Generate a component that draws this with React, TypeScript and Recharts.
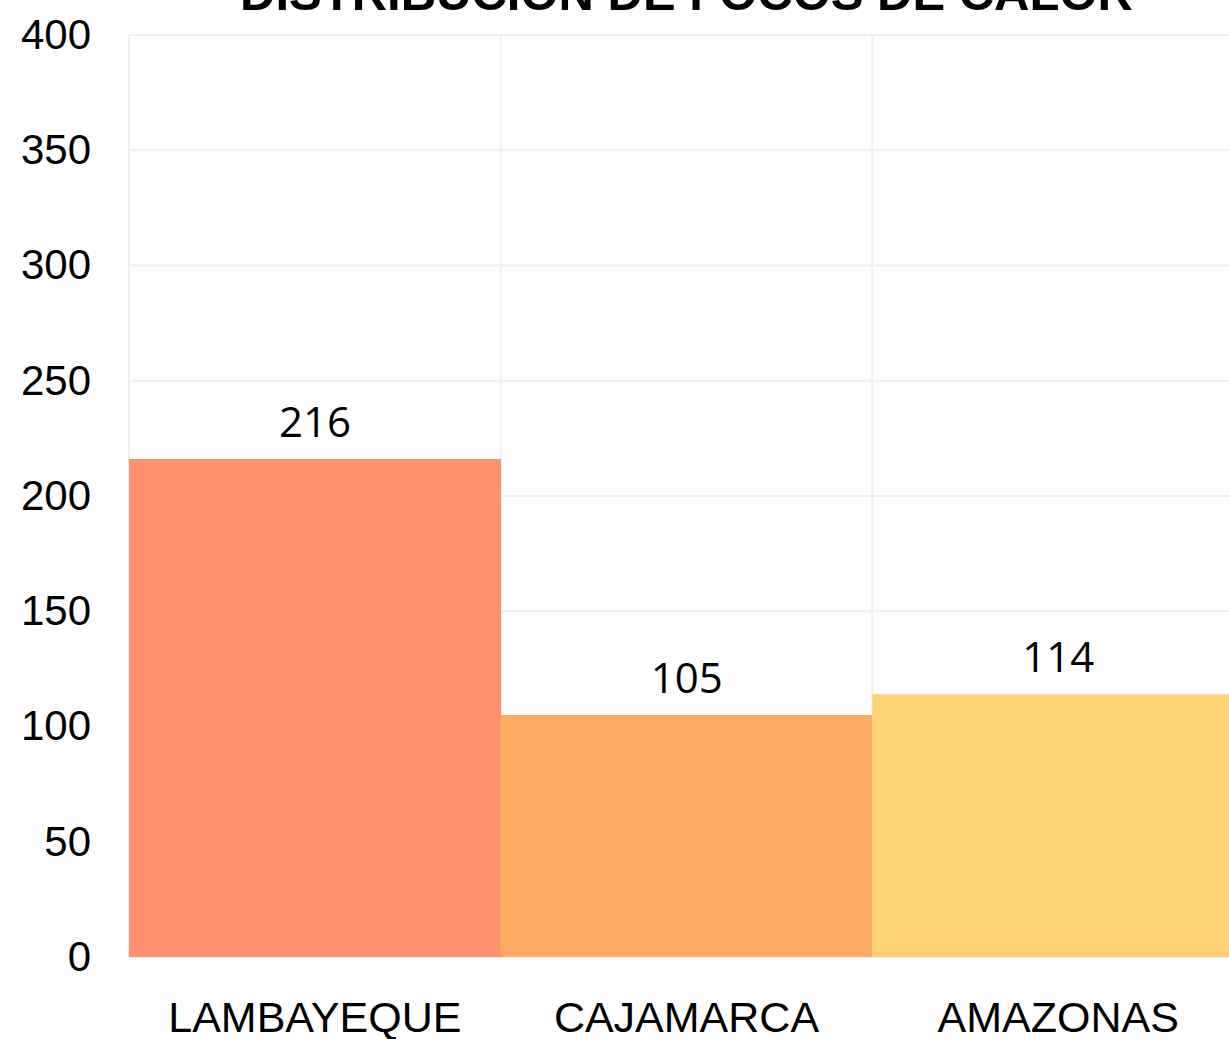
import { BarChart, Bar, XAxis, YAxis, CartesianGrid, Cell, LabelList } from "recharts";

const categories = ["LAMBAYEQUE", "CAJAMARCA", "AMAZONAS"];
const focos = [216, 105, 114];
const yTicks = [0, 50, 100, 150, 200, 250, 300, 350, 400];
const barColors = ["#FF916E", "#FFAB62", "#FFD271"];

const data = categories.map((name, i) => ({ name, value: focos[i] }));

const axisFont = "'Liberation Sans', Arial, sans-serif";

export default function App() {
  return (
    <div
      style={{
        position: "absolute",
        left: 0,
        top: 0,
        width: 1229,
        height: 1039,
        overflow: "hidden",
        background: "#fff",
      }}
    >
      <BarChart
        width={1244}
        height={1039}
        data={data}
        margin={{ top: 35, right: 0, bottom: 0, left: 0 }}
        barCategoryGap={0}
      >
        <CartesianGrid
          stroke="#f0f0f0"
          strokeWidth={2}
          verticalCoordinatesGenerator={({ offset }: any) =>
            [0, 1, 2, 3].map((i) => offset.left + (i * offset.width) / categories.length)
          }
        />
        <XAxis
          dataKey="name"
          height={82}
          axisLine={false}
          tickLine={false}
          tickSize={0}
          tickMargin={44}
          tick={{ fill: "#000", fontSize: 43, fontFamily: axisFont }}
        />
        <YAxis
          width={129}
          domain={[0, 400]}
          ticks={yTicks}
          axisLine={false}
          tickLine={false}
          tickSize={0}
          tickMargin={38}
          tick={{ fill: "#000", fontSize: 42, fontFamily: axisFont, dy: -1 }}
        />
        <Bar dataKey="value" isAnimationActive={false}>
          {data.map((d, i) => (
            <Cell key={d.name} fill={barColors[i]} />
          ))}
          <LabelList
            dataKey="value"
            position="top"
            offset={22}
            fill="#000"
            fontSize={42}
            fontFamily="'Open Sans', sans-serif"
          />
        </Bar>
      </BarChart>
      <div
        style={{
          position: "absolute",
          left: 129,
          width: 1115,
          top: -31,
          textAlign: "center",
          fontFamily: axisFont,
          fontWeight: "bold",
          fontSize: 49,
          lineHeight: 1,
          color: "#000",
          pointerEvents: "none",
        }}
      >
        DISTRIBUCIÓN DE FOCOS DE CALOR
      </div>
    </div>
  );
}
